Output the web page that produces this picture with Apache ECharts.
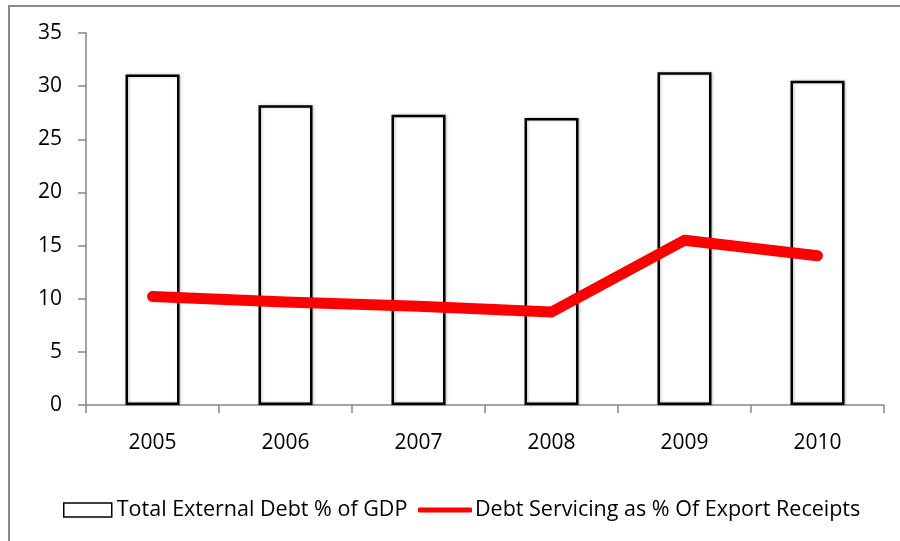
<!DOCTYPE html>
<html><head><meta charset="utf-8">
<script src="https://cdn.jsdelivr.net/npm/echarts@6/dist/echarts.min.js"></script>
<style>html,body{margin:0;padding:0;background:#fff}#c{width:900px;height:541px}</style>
</head><body><div id="c"></div>
<script>
const categories = ['2005','2006','2007','2008','2009','2010'];
const debtGDP = [31.1, 28.2, 27.3, 27.0, 31.3, 30.5];
const debtService = [10.2, 9.7, 9.3, 8.75, 15.5, 14.05];
const yTicks = [0, 5, 10, 15, 20, 25, 30, 35];
const seriesNames = ['Total External Debt % of GDP', 'Debt Servicing as % Of Export Receipts'];

const FONT = 'Open Sans';
const FS = 21;
const LFS = 21.5;
const chart = echarts.init(document.getElementById('c'), null, {renderer:'canvas'});
chart.setOption({
  animation: false,
  textStyle: {fontFamily: FONT},
  grid: {left: 86, right: 16, top: 33, bottom: 136},
  graphic: [
    {type:'line', shape:{x1:8,y1:6,x2:900,y2:6}, style:{stroke:'#8a8a8a', lineWidth:2}},
    {type:'line', shape:{x1:9,y1:5,x2:9,y2:541}, style:{stroke:'#8a8a8a', lineWidth:2}}
  ],
  legend: [
    {data:[{name: seriesNames[0]}], left: 63, top: 499, padding:0, icon:'rect', itemWidth: 48, itemHeight: 14,
     itemStyle:{color:'#fff', borderColor:'#000', borderWidth:1.5},
     textStyle:{fontSize:LFS, color:'#000', fontFamily: FONT, padding:[0,0,0,0]}},
    {data:[{name: seriesNames[1]}], left: 418, top: 499, padding:0, icon:'roundRect', itemWidth: 54, itemHeight: 5,
     itemStyle:{color:'#ff0000', borderWidth:0},
     textStyle:{fontSize:LFS, color:'#000', fontFamily: FONT, padding:[0,0,0,-2]}}
  ],
  xAxis: {
    type:'category', data: categories, boundaryGap: true,
    axisLine:{lineStyle:{color:'#868686', width:1.5}},
    axisTick:{show:true, length:8, lineStyle:{color:'#868686', width:1.5}},
    axisLabel:{fontSize:FS, color:'#000', margin:28, fontFamily: FONT}
  },
  yAxis: {
    type:'value', min: yTicks[0], max: yTicks[yTicks.length-1], interval: 5,
    axisLine:{show:true, lineStyle:{color:'#868686', width:1.5}},
    axisTick:{show:true, length:8, lineStyle:{color:'#868686', width:1.5}},
    splitLine:{show:false},
    axisLabel:{fontSize:FS, color:'#000', margin:24, fontFamily: FONT}
  },
  series: [
    {name: seriesNames[0], type:'bar', data: debtGDP, barWidth: 54,
     itemStyle:{color:'#fff', borderColor:'#000', borderWidth:2.5,
       shadowColor:'rgba(0,0,0,0.25)', shadowBlur:3, shadowOffsetX:1}},
    {name: seriesNames[1], type:'line', data: debtService, symbol:'none', smooth:false,
     lineStyle:{color:'#ff0000', width:11, cap:'round', join:'round'},
     itemStyle:{color:'#ff0000'}}
  ]
});
</script></body></html>
